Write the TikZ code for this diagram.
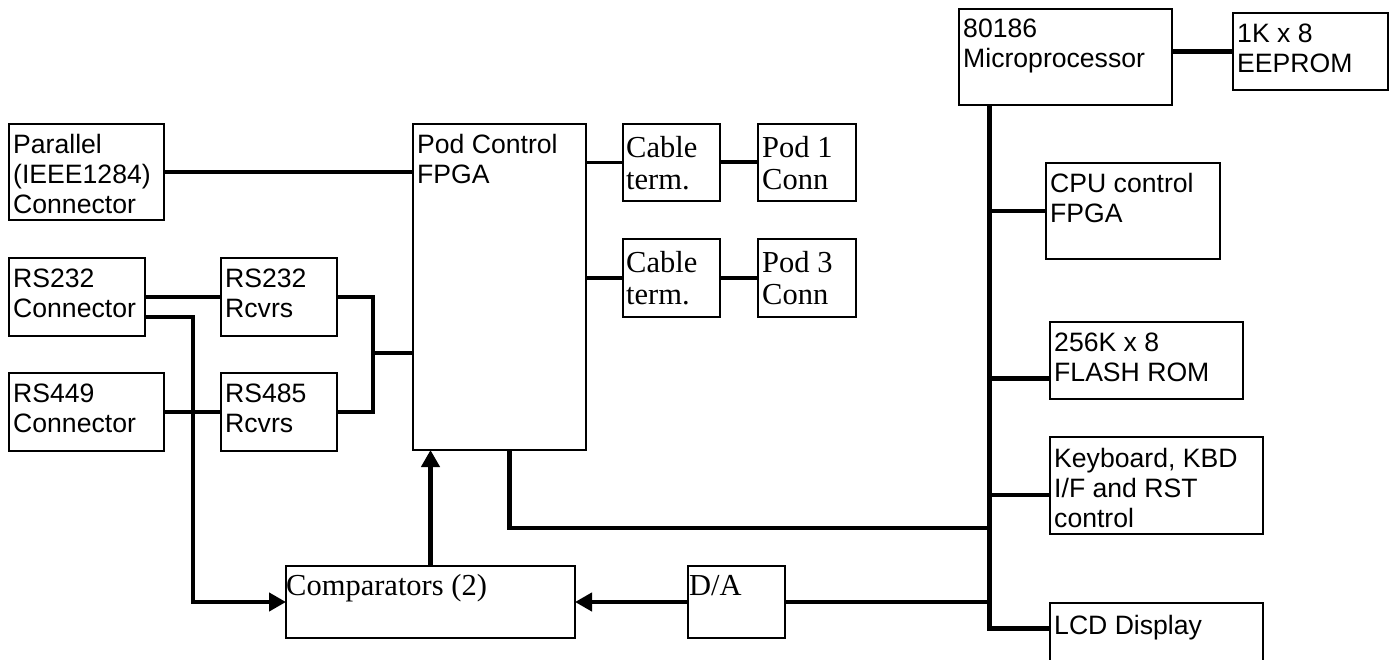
\documentclass[tikz,border=0pt]{standalone}
\usepackage{fontspec}
\usetikzlibrary{arrows.meta}
\newfontfamily\sansfam{Liberation Sans}
\newfontfamily\seriffam{Liberation Serif}
\newcommand\mybox[9]{%
  \node[box,minimum width=#4pt,minimum height=#5pt] (#1) at (#2,#3) {};
  \node[#6] (#1t) at ([shift={(#7pt,#8pt)}]#1.north west) {#9};}
\begin{document}
\begin{tikzpicture}[x=1pt,y=-1pt,
  box/.style={draw, line width=2pt, anchor=north west, inner sep=0pt, outer sep=0pt},
  st/.style={anchor=north west, inner sep=0pt, align=left, font=\sansfam\fontsize{26.6}{30}\selectfont},
  rt/.style={anchor=north west, inner sep=0pt, align=left, font=\seriffam\fontsize{30.5}{32}\selectfont},
  wire/.style={line width=4.2pt},
  arr/.style={line width=4.2pt, -{Triangle[length=17pt,width=18pt]}}]
\useasboundingbox (0,0) rectangle (1392,660);
% left column
\mybox{par}{9}{124}{155}{96}{st}{4}{-10}{Parallel\\(IEEE1284)\\Connector}
\mybox{rs232c}{9}{258}{136}{78}{st}{4}{-11}{RS232\\Connector}
\mybox{rs449}{9}{373}{155}{78}{st}{4}{-11}{RS449\\Connector}
\mybox{rs232r}{221}{258}{116}{78}{st}{4}{-11}{RS232\\Rcvrs}
\mybox{rs485r}{221}{373}{116}{78}{st}{4}{-11}{RS485\\Rcvrs}
\mybox{fpga}{413}{124}{173}{326}{st}{4}{-10}{Pod Control\\FPGA}
% cable terminations and pods
\mybox{cab1}{623}{124}{97}{77}{rt}{3}{-12}{Cable\\term.}
\mybox{pod1}{758}{124}{98}{77}{rt}{4}{-12}{Pod 1\\Conn}
\mybox{cab2}{623}{239}{97}{78}{rt}{3}{-12}{Cable\\term.}
\mybox{pod3}{758}{239}{98}{78}{rt}{4}{-12}{Pod 3\\Conn}
% bottom
\mybox{comp}{286}{566}{289}{72}{rt}{0}{-8}{Comparators (2)}
\mybox{da}{688}{566}{97}{72}{rt}{1}{-9}{D/A}
% right column
\mybox{micro}{959}{9}{213}{96}{st}{4}{-10}{80186\\Microprocessor}
\mybox{eeprom}{1233}{13}{155}{77}{st}{4}{-11}{1K x 8\\EEPROM}
\mybox{cpu}{1046}{163}{174}{96}{st}{4}{-10}{CPU control\\FPGA}
\mybox{flash}{1050}{322}{193}{77}{st}{4}{-11}{256K x 8\\FLASH ROM}
\mybox{kbd}{1050}{437}{213}{97}{st}{4}{-11}{Keyboard, KBD\\I/F and RST\\control}
\mybox{lcd}{1050}{603}{213}{90}{st}{4}{-12}{LCD Display}
% coordinates
\path (micro.south west) ++(30,0) coordinate (busT);
\coordinate (k1) at (193,602);
\coordinate (mj) at (373,353);
\coordinate (jfp) at (989,528);
% left connectors
\draw[wire] (par.east) -- (par.east -| fpga.west);
\draw[wire] (rs232c.east) -- (rs232r.west);
\draw[arr] ([yshift=-20pt]rs232c.east) -| (k1) -- (comp.west);
\draw[wire] (rs449.east) -- (rs485r.west);
\draw[wire] (rs232r.east) -| (mj) |- (rs485r.east);
\draw[wire] (mj) -- (mj -| fpga.west);
% pods
\draw[line width=3.5pt] (fpga.east |- cab1.west) -- (cab1.west);
\draw[line width=4pt] (cab1.east) -- (pod1.west);
\draw[line width=3.6pt] (fpga.east |- cab2.west) -- (cab2.west);
\draw[line width=3.6pt] (cab2.east) -- (pod3.west);
% bottom
\draw[arr] (comp.north) -- (comp.north |- fpga.south);
\draw[arr] (da.west) -- (comp.east);
\draw[wire] (da.east) -- (da.east -| busT);
\draw[wire] ([xshift=10pt]fpga.south) |- (jfp);
% bus
\draw[line width=4.6pt] (micro.east |- eeprom.west) -- (eeprom.west);
\path ([yshift=-25pt]lcd.north west) coordinate (l1);
\draw[line width=5pt] (busT) |- (l1);
\draw[wire] (cpu.west -| busT) -- (cpu.west);
\draw[wire] ([yshift=-18pt]flash.west) coordinate (f1) -- (f1 -| busT);
\draw[wire] ([yshift=-9.5pt]kbd.west) coordinate (kb1) -- (kb1 -| busT);
\end{tikzpicture}
\end{document}
